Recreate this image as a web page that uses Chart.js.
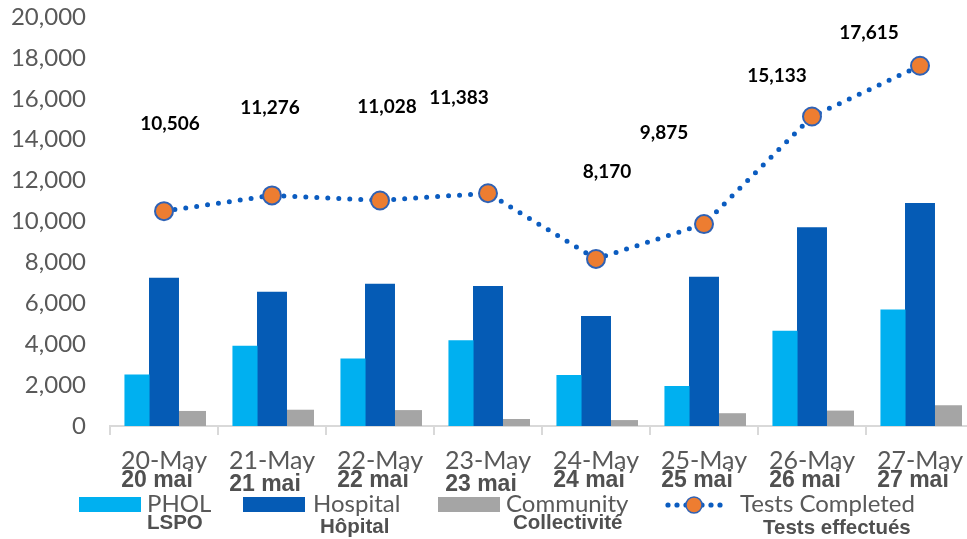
<!DOCTYPE html>
<html>
<head>
<meta charset="utf-8">
<script src="https://cdn.jsdelivr.net/npm/chart.js@4/dist/chart.umd.min.js"></script>
<style>
html,body{margin:0;padding:0;overflow:hidden;background:#fff;}
#wrap{width:985px;height:539px;}
</style>
</head>
<body>
<div id="wrap"><canvas id="c" width="985" height="539"></canvas></div>
<script>
// ---- data ----
const categoriesEn = ['20-May','21-May','22-May','23-May','24-May','25-May','26-May','27-May'];
const categoriesFr = ['20 mai','21 mai','22 mai','23 mai','24 mai','25 mai','26 mai','27 mai'];
const phol       = [2520, 3920, 3300, 4190, 2500, 1950, 4660, 5700];
const hospital   = [7250, 6560, 6950, 6850, 5380, 7300, 9720, 10900];
const community  = [736, 796, 778, 343, 290, 625, 753, 1015];
const testsCompleted = [10506, 11276, 11028, 11383, 8170, 9875, 15133, 17615];
const legendEn = ['PHOL','Hospital','Community','Tests Completed'];
const legendFr = ['LSPO','Hôpital','Collectivité','Tests effectués'];
const yMin = 0, yMax = 20000, yStep = 2000;

const C_PHOL = '#00B0F0', C_HOSP = '#055BB5', C_COMM = '#A5A5A5';
const C_LINE = '#0B5CC0', C_PT = '#ED7D31', C_PTB = '#2F62B5';

const labelPlugin = {
  id: 'customText',
  afterDatasetsDraw(chart, args, opts) {
    const ctx = chart.ctx;
    const meta = chart.getDatasetMeta(3);
    ctx.save();
    ctx.font = 'bold 19px Lato, "Open Sans", sans-serif';
    ctx.fillStyle = '#000';
    ctx.textAlign = 'center';
    ctx.textBaseline = 'middle';
    meta.data.forEach((pt, i) => {
      ctx.fillText(testsCompleted[i].toLocaleString('en-US'), pt.x + opts.dx[i], pt.y - opts.dy[i]);
    });
    ctx.restore();
  },
  afterDraw(chart, args, opts) {
    const ctx = chart.ctx;
    const xs = chart.scales.x;
    ctx.save();
    ctx.textAlign = 'center';
    ctx.textBaseline = 'middle';
    categoriesEn.forEach((lab, i) => {
      const x = xs.getPixelForValue(i);
      ctx.font = '25px Lato, "Open Sans", sans-serif';
      ctx.fillStyle = '#595959';
      ctx.fillText(lab, x, 461);
      ctx.font = 'bold 23px "Liberation Sans", Arial, sans-serif';
      ctx.fillStyle = '#505050';
      ctx.fillText(categoriesFr[i], x - 7, opts.frY[i]);
    });
    // legend
    const sw = opts.swatches;
    const cols = [C_PHOL, C_HOSP, C_COMM];
    ctx.textAlign = 'left';
    for (let k = 0; k < 3; k++) {
      ctx.fillStyle = cols[k];
      ctx.fillRect(sw[k], 497, 62, 15);
    }
    // line marker
    ctx.fillStyle = C_LINE;
    [668, 677, 686, 702, 711, 720].forEach(x => {
      ctx.beginPath(); ctx.arc(x, 505, 2.6, 0, Math.PI * 2); ctx.fill();
    });
    ctx.beginPath(); ctx.arc(694, 505, 8, 0, Math.PI * 2);
    ctx.fillStyle = C_PT; ctx.fill();
    ctx.lineWidth = 1.5; ctx.strokeStyle = C_PTB; ctx.stroke();
    for (let k = 0; k < 4; k++) {
      ctx.font = '24px Lato, "Open Sans", sans-serif';
      ctx.fillStyle = '#595959';
      ctx.fillText(legendEn[k], opts.textX[k], 504);
      ctx.font = 'bold 20.5px "Liberation Sans", Arial, sans-serif';
      ctx.fillStyle = '#505050';
      ctx.fillText(legendFr[k], opts.subX[k], opts.subY[k]);
    }
    ctx.restore();
  }
};

new Chart(document.getElementById('c'), {
  data: {
    labels: categoriesEn,
    datasets: [
      { type: 'bar', label: legendEn[0], data: phol, backgroundColor: C_PHOL, barPercentage: 0.93, categoryPercentage: 0.75, order: 1 },
      { type: 'bar', label: legendEn[1], data: hospital, backgroundColor: C_HOSP, barPercentage: 1.11, categoryPercentage: 0.75, order: 1 },
      { type: 'bar', label: legendEn[2], data: community, backgroundColor: C_COMM, barPercentage: 1.11, categoryPercentage: 0.75, order: 1 },
      { type: 'line', label: legendEn[3], data: testsCompleted, borderColor: C_LINE, borderWidth: 5,
        borderDash: [0, 11], borderCapStyle: 'round', fill: false, tension: 0,
        pointRadius: 9, pointHoverRadius: 9, pointBackgroundColor: C_PT, pointBorderColor: C_PTB, pointBorderWidth: 2, order: 0 }
    ]
  },
  options: {
    responsive: false,
    animation: false,
    devicePixelRatio: 1,
    layout: { padding: { top: 17, right: 3, left: 0, bottom: 0 } },
    plugins: {
      legend: { display: false },
      title: { display: false },
      tooltip: { enabled: false },
      customText: {
        dx: [6, -2, 7, -29, 11, -40, -35, -51],
        dy: [87, 88, 94, 95, 87, 91, 41, 33],
        frY: [481, 485, 481, 485, 481, 481, 481, 481],
        swatches: [79, 243, 438],
        textX: [147, 313, 506, 740],
        subX: [147, 320, 513, 763],
        subY: [523, 527, 523, 528]
      }
    },
    scales: {
      x: {
        offset: true,
        grid: { display: true, offset: true, drawOnChartArea: false, drawTicks: true, tickLength: 9, color: '#D9D9D9', lineWidth: 2 },
        border: { display: true, color: '#D9D9D9', width: 2 },
        ticks: { display: false },
        afterFit(s) { s.height = 113; s.paddingLeft = 0; s.paddingRight = 0; }
      },
      y: {
        min: yMin, max: yMax,
        grid: { display: false, drawTicks: false },
        border: { display: false },
        ticks: { stepSize: yStep, padding: 24, color: '#595959', font: { family: 'Lato, "Open Sans", sans-serif', size: 24 } },
        afterFit(s) { s.width = 110; s.paddingTop = 0; s.paddingBottom = 0; }
      }
    }
  },
  plugins: [labelPlugin]
});
</script>
</body>
</html>
